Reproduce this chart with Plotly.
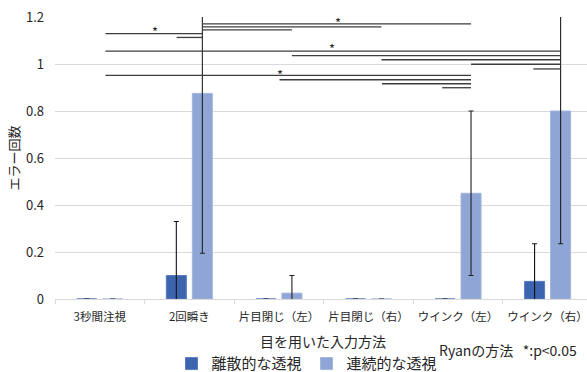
import plotly.graph_objects as go

# Input methods using the eyes
methods = ["3秒間注視", "2回瞬き", "片目閉じ（左）", "片目閉じ（右）", "ウインク（左）", "ウインク（右）"]

# Mean error counts and their error-bar half lengths
discrete_mean = [0, 0.1, 0, 0, 0, 0.075]
discrete_err = [0, 0.23, 0, 0, 0, 0.16]
continuous_mean = [0, 0.875, 0.025, 0, 0.45, 0.8]
continuous_err = [0, 0.68, 0.075, 0, 0.35, 0.565]

y_ticks = [0, 0.2, 0.4, 0.6, 0.8, 1.0, 1.2]
y_tick_text = ["0", "0.2", "0.4", "0.6", "0.8", "1", "1.2"]

# Pairwise comparison brackets (Ryan's method), x in category-index units
sig_start = [0.063, 0.858, 1.145, 1.145, 1.145, 0.063, 2.145, 3.145, 4.145, 4.841, 0.063, 2.007, 3.151, 3.823]
sig_end = [1.145, 1.145, 4.145, 3.145, 2.145, 5.145, 5.145, 5.145, 5.145, 5.145, 4.145, 4.145, 4.145, 4.145]
sig_level = [1.129, 1.113, 1.171, 1.158, 1.145, 1.055, 1.036, 1.018, 0.999, 0.979, 0.952, 0.933, 0.916, 0.899]
star_x = [0.617, 2.663, 2.588, 2.015]
star_y = [1.149, 1.191, 1.077, 0.970]

FONT = "Noto Sans CJK JP"
TEXT = "#262626"
DARK = "#3D64AE"
LIGHT = "#8EA5D6"

fig = go.Figure()
fig.add_trace(go.Bar(
    name="離散的な透視", x=methods, y=discrete_mean,
    marker=dict(color=DARK, line=dict(color="#5A7CC0", width=1)),
    error_y=dict(type="data", array=discrete_err, color="#111111", thickness=1.1, width=2.5),
))
fig.add_trace(go.Bar(
    name="連続的な透視", x=methods, y=continuous_mean,
    marker=dict(color=LIGHT, line=dict(color="#A3B6DF", width=1)),
    error_y=dict(type="data", array=continuous_err, color="#222222", thickness=1.1, width=2.5),
))

for x0, x1, yv in zip(sig_start, sig_end, sig_level):
    fig.add_shape(type="line", xref="x", yref="y", x0=x0, x1=x1, y0=yv, y1=yv,
                  line=dict(color="#3c3c3c", width=1.3))

for sx, sy in zip(star_x, star_y):
    fig.add_annotation(x=sx, y=sy, xref="x", yref="y", text="*", showarrow=False,
                       font=dict(family=FONT, size=13, color=TEXT), yshift=-3)

fig.add_annotation(x=0.503, y=-0.149, xref="paper", yref="paper", text="目を用いた入力方法",
                   showarrow=False, xanchor="center", yanchor="middle",
                   font=dict(family=FONT, size=14, color=TEXT))
fig.add_annotation(x=0.852, y=-0.181, xref="paper", yref="paper",
                   text="Ryanの方法\u00a0\u00a0\u00a0*:p<0.05",
                   showarrow=False, xanchor="center", yanchor="middle",
                   font=dict(family=FONT, size=14, color=TEXT))

fig.update_layout(
    width=587, height=372,
    margin=dict(l=55, r=0, t=17, b=73),
    paper_bgcolor="white", plot_bgcolor="white",
    barmode="group", bargap=0.419, bargroupgap=0.23,
    font=dict(family=FONT, color=TEXT),
    showlegend=True,
    legend=dict(orientation="h", xref="container", yref="container",
                x=0.523, y=0.022, xanchor="center", yanchor="middle",
                font=dict(family=FONT, size=15, color=TEXT), itemwidth=30,
                traceorder="normal", bgcolor="rgba(0,0,0,0)"),
    xaxis=dict(range=[-0.5, 5.44], tickson="boundaries", ticks="outside", ticklen=4,
               tickcolor="#D9D9D9", showline=True, linecolor="#D9D9D9", linewidth=1,
               showgrid=False, tickangle=0, automargin=False,
               tickfont=dict(family=FONT, size=11.5, color=TEXT), ticklabelstandoff=7),
    yaxis=dict(range=[0, 1.2], tickvals=y_ticks, ticktext=y_tick_text, showgrid=True,
               gridcolor="#D9D9D9", gridwidth=1, zeroline=False, showline=False,
               automargin=False,
               tickfont=dict(family=FONT, size=13, color=TEXT), ticklabelstandoff=10,
               title=dict(text="エラー回数", font=dict(family=FONT, size=13, color=TEXT), standoff=3)),
)

fig.write_html("out.html")
